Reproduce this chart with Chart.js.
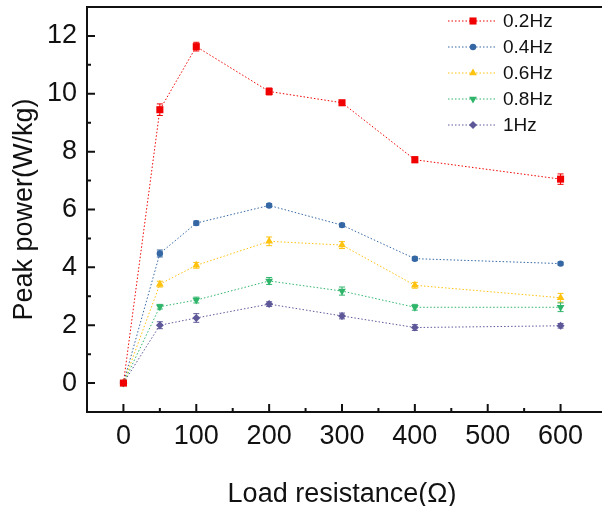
<!DOCTYPE html>
<html>
<head>
<meta charset="utf-8">
<script src="https://cdn.jsdelivr.net/npm/chart.js@4.4.1/dist/chart.umd.min.js"></script>
<style>
  html, body { margin: 0; padding: 0; overflow: hidden; background: #fff; }
  #wrap { width: 602px; height: 506px; overflow: hidden; position: relative; }
  canvas { display: block; }
</style>
</head>
<body>
<div id="wrap"><canvas id="powerChart" width="602" height="506"></canvas></div>
<script>
// ---------- data ----------
const resistance = [0, 50, 100, 200, 300, 400, 600];
const xTicks = [0, 100, 200, 300, 400, 500, 600];
const yTicks = [0, 2, 4, 6, 8, 10, 12];
const xMinor = [50, 150, 250, 350, 450, 550];
const yMinor = [1, 3, 5, 7, 9, 11];

const seriesLabels = ["0.2Hz", "0.4Hz", "0.6Hz", "0.8Hz", "1Hz"];
const p02 = [0, 9.45, 11.63, 10.08, 9.69, 7.72, 7.05];
const p04 = [0, 4.48, 5.53, 6.14, 5.46, 4.3, 4.13];
const p06 = [0, 3.42, 4.07, 4.9, 4.77, 3.38, 2.95];
const p08 = [0, 2.64, 2.87, 3.53, 3.18, 2.62, 2.62];
const p1 = [0, 2.0, 2.25, 2.73, 2.32, 1.92, 1.98];

// error bar half heights
const e02 = [0, 0.2, 0.15, 0.12, 0.08, 0.1, 0.18];
const e04 = [0, 0.12, 0.07, 0.06, 0.06, 0.06, 0.05];
const e06 = [0, 0.1, 0.1, 0.15, 0.12, 0.1, 0.15];
const e08 = [0, 0.08, 0.1, 0.12, 0.14, 0.1, 0.15];
const e1 = [0, 0.12, 0.15, 0.08, 0.1, 0.1, 0.08];

const colors = ["#f00000", "#3467a3", "#ffc20e", "#2fb56a", "#5e5899"];
const styles = ["rect", "circle", "triangle", "triangle", "rectRot"];
const radii = [5, 3.2, 4.5, 4.5, 4];
const values = [p02, p04, p06, p08, p1];
const errors = [e02, e04, e06, e08, e1];

const FONT = "'Liberation Sans', Arial, sans-serif";

// frame (right side is cut off in the original), inside ticks, error bars, legend
const extras = {
  id: "extras",
  beforeDatasetsDraw(chart) {
    const { ctx, scales: { x, y } } = chart;
    ctx.save();
    ctx.lineWidth = 1;
    chart.data.datasets.forEach((ds, i) => {
      ctx.strokeStyle = colors[i];
      errors[i].forEach((err, j) => {
        if (!err) return;
        const px = x.getPixelForValue(resistance[j]);
        const top = y.getPixelForValue(values[i][j] + err);
        const bot = y.getPixelForValue(values[i][j] - err);
        ctx.beginPath();
        ctx.moveTo(px, top); ctx.lineTo(px, bot);
        ctx.moveTo(px - 3, top); ctx.lineTo(px + 3, top);
        ctx.moveTo(px - 3, bot); ctx.lineTo(px + 3, bot);
        ctx.stroke();
      });
    });
    ctx.restore();
  },
  afterDraw(chart) {
    const { ctx, chartArea: a, scales: { x, y } } = chart;
    ctx.save();
    ctx.strokeStyle = "#111";
    ctx.lineWidth = 2;
    ctx.beginPath();
    ctx.moveTo(chart.width, a.top); ctx.lineTo(a.left, a.top);
    ctx.lineTo(a.left, a.bottom); ctx.lineTo(chart.width, a.bottom);
    xTicks.forEach(v => { const p = x.getPixelForValue(v); ctx.moveTo(p, a.bottom); ctx.lineTo(p, a.bottom - 8); });
    xMinor.forEach(v => { const p = x.getPixelForValue(v); ctx.moveTo(p, a.bottom); ctx.lineTo(p, a.bottom - 4); });
    yTicks.forEach(v => { const p = y.getPixelForValue(v); ctx.moveTo(a.left, p); ctx.lineTo(a.left + 8, p); });
    yMinor.forEach(v => { const p = y.getPixelForValue(v); ctx.moveTo(a.left, p); ctx.lineTo(a.left + 4, p); });
    ctx.stroke();

    // legend
    ctx.font = "19px " + FONT;
    ctx.textBaseline = "middle";
    chart.data.datasets.forEach((ds, i) => {
      const ly = 21 + i * 26;
      ctx.strokeStyle = colors[i];
      ctx.lineWidth = 1;
      ctx.setLineDash([1.5, 2]);
      ctx.beginPath();
      ctx.moveTo(448, ly); ctx.lineTo(497, ly);
      ctx.stroke();
      ctx.setLineDash([]);
      ctx.fillStyle = colors[i];
      Chart.helpers.drawPoint(ctx, {
        pointStyle: styles[i], radius: radii[i], rotation: i === 3 ? 180 : 0, borderWidth: 0
      }, 473, ly);
      ctx.fillStyle = "#111";
      ctx.fillText(ds.label, 503, ly + 1);
    });
    ctx.restore();
  }
};

new Chart(document.getElementById("powerChart"), {
  type: "line",
  data: {
    datasets: seriesLabels.map((label, i) => ({
      label: label,
      data: resistance.map((r, j) => ({ x: r, y: values[i][j] })),
      borderColor: colors[i],
      backgroundColor: colors[i],
      borderWidth: 1,
      borderDash: [1.5, 2],
      pointStyle: styles[i],
      pointRadius: radii[i],
      pointRotation: i === 3 ? 180 : 0,
      pointBorderWidth: 0,
      tension: 0,
    })),
  },
  options: {
    responsive: false,
    animation: false,
    events: [],
    layout: { padding: { top: 7, right: 0, left: 0, bottom: 0 } },
    plugins: { legend: { display: false }, tooltip: { enabled: false } },
    scales: {
      x: {
        type: "linear",
        min: -50,
        max: 650,
        afterBuildTicks: s => { s.ticks = xTicks.map(v => ({ value: v })); },
        afterFit: s => { s.height = 94; s.paddingLeft = 0; s.paddingRight = 0; },
        grid: { display: false, drawTicks: false },
        border: { display: false },
        ticks: { padding: 8, color: "#111", font: { family: FONT, size: 27 } },
        title: {
          display: true,
          text: "Load resistance(Ω)",
          color: "#111",
          font: { family: FONT, size: 27, lineHeight: 0.8 },
          padding: { top: 0, bottom: 1 },
        },
      },
      y: {
        min: -1,
        max: 13,
        afterBuildTicks: s => { s.ticks = yTicks.map(v => ({ value: v })); },
        afterFit: s => { s.width = 87; s.paddingTop = 0; s.paddingBottom = 0; },
        grid: { display: false, drawTicks: false },
        border: { display: false },
        ticks: { padding: 10, color: "#111", font: { family: FONT, size: 27 } },
        title: {
          display: true,
          text: "Peak power(W/kg)",
          color: "#111",
          font: { family: FONT, size: 27, lineHeight: 0.8 },
          padding: { top: 14, bottom: 0 },
        },
      },
    },
  },
  plugins: [extras],
});
</script>
</body>
</html>
